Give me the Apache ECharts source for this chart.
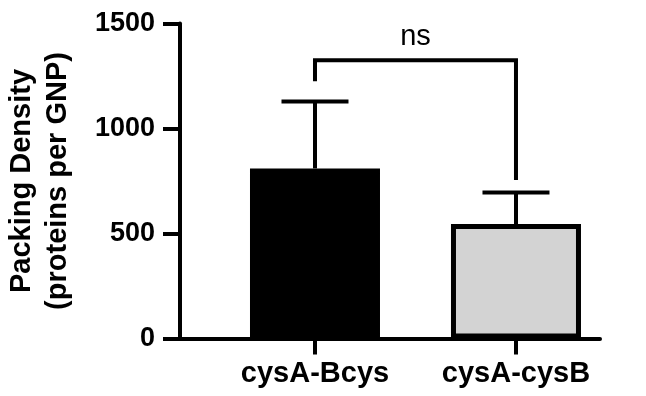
<!DOCTYPE html>
<html>
<head>
<meta charset="utf-8">
<script src="https://cdn.jsdelivr.net/npm/echarts@6/dist/echarts.min.js"></script>
<style>
  html, body { margin: 0; padding: 0; background: #fff; }
  #chart { width: 646px; height: 396px; }
</style>
</head>
<body>
<div id="chart"></div>
<script>
// Group names, means and SD (upper error only)
const categories = ['cysA-Bcys', 'cysA-cysB'];
const means = [810, 545];
const sds = [318, 150];
const fills = ['#000000', '#d3d3d3'];

// Y axis range and tick spacing
const yMin = 0;
const yMax = 1500;
const yStep = 500;

// Significance bracket between the two groups
const sigLabel = 'ns';
const sigTop = 1325;
const sigLegEnds = [1225, 755];

const FONT = '"Liberation Sans", Arial, Helvetica, sans-serif';
const positions = categories.map((_, i) => i + 1);

const chart = echarts.init(document.getElementById('chart'), null, { renderer: 'canvas' });

const option = {
  animation: false,
  backgroundColor: '#ffffff',
  grid: { left: 180, right: 46, top: 23.5, bottom: 57.5, containLabel: false, outerBoundsMode: 'none' },
  xAxis: {
    type: 'value',
    min: 0.3284,
    max: 2.418,
    splitLine: { show: false },
    axisLine: { show: true, lineStyle: { color: '#000', width: 4 } },
    axisTick: { show: true, customValues: positions, length: 16, lineStyle: { color: '#000', width: 4 } },
    axisLabel: {
      customValues: positions,
      formatter: v => categories[Math.round(v) - 1] || '',
      color: '#000', fontFamily: FONT, fontWeight: 'bold', fontSize: 29, margin: 21
    }
  },
  yAxis: {
    type: 'value',
    min: yMin,
    max: yMax,
    interval: yStep,
    name: 'Packing Density\n(proteins per GNP)',
    nameLocation: 'middle',
    nameGap: 104,
    nameTextStyle: { color: '#000', fontFamily: FONT, fontWeight: 'bold', fontSize: 29, lineHeight: 36 },
    splitLine: { show: false },
    axisLine: { show: true, lineStyle: { color: '#000', width: 4 } },
    axisTick: { show: true, length: 17, lineStyle: { color: '#000', width: 4 } },
    axisLabel: {
      formatter: v => String(v),
      color: '#000', fontFamily: FONT, fontWeight: 'bold', fontSize: 27, margin: 25
    }
  },
  series: [
    {
      type: 'bar',
      barWidth: 130,
      data: means.map((m, i) => ({
        value: [positions[i], m],
        itemStyle: { color: fills[i], borderColor: '#000', borderWidth: 5 }
      })),
      z: 2
    },
    {
      // upper SD error bars with caps
      type: 'custom',
      clip: false,
      z: 3,
      data: means.map((m, i) => [positions[i], m, sds[i]]),
      renderItem: (params, api) => {
        const x = api.value(0), m = api.value(1), s = api.value(2);
        const p0 = api.coord([x, m]);
        const p1 = api.coord([x, m + s]);
        const half = 33.5;
        const st = { stroke: '#000', lineWidth: 4 };
        return {
          type: 'group',
          children: [
            { type: 'line', shape: { x1: p0[0], y1: p0[1], x2: p1[0], y2: p1[1] }, style: st },
            { type: 'line', shape: { x1: p1[0] - half, y1: p1[1], x2: p1[0] + half, y2: p1[1] }, style: st }
          ]
        };
      }
    },
    {
      // comparison bracket with its label
      type: 'custom',
      clip: false,
      z: 3,
      data: [[positions[0], positions[1], sigLegEnds[0], sigTop, sigLegEnds[1]]],
      renderItem: (params, api) => {
        const a = api.value(0), b = api.value(1);
        const l = api.value(2), t = api.value(3), r = api.value(4);
        const pts = [api.coord([a, l]), api.coord([a, t]), api.coord([b, t]), api.coord([b, r])];
        const mid = api.coord([(a + b) / 2, t]);
        return {
          type: 'group',
          children: [
            { type: 'polyline', shape: { points: pts }, style: { stroke: '#000', lineWidth: 4, fill: null, lineJoin: 'miter' } },
            { type: 'text', x: mid[0], y: mid[1] - 23, style: {
                text: sigLabel, fill: '#000', font: '29px ' + FONT, align: 'center', verticalAlign: 'middle'
              } }
          ]
        };
      }
    }
  ]
};

chart.setOption(option);
</script>
</body>
</html>
